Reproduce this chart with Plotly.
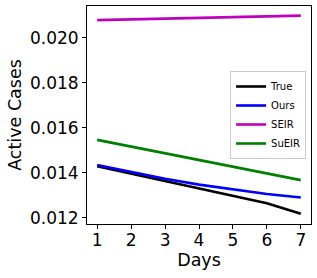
import plotly.graph_objects as go

days = [1, 2, 3, 4, 5, 6, 7]
true_vals = [0.01430, 0.01397, 0.01365, 0.01330, 0.01296, 0.01265, 0.01219]
ours_vals = [0.01435, 0.01403, 0.01374, 0.01348, 0.01326, 0.01306, 0.01291]
seir_vals = [0.02079, 0.02082, 0.02086, 0.02089, 0.02092, 0.02096, 0.02099]
sueir_vals = [0.01547, 0.01517, 0.01488, 0.01459, 0.01429, 0.01398, 0.01368]

series = [
    ("True", true_vals, "black"),
    ("Ours", ours_vals, "#0000ff"),
    ("SEIR", seir_vals, "#bf00bf"),
    ("SuEIR", sueir_vals, "#008000"),
]

fig = go.Figure()
for name, vals, color in series:
    fig.add_trace(go.Scatter(x=days, y=vals, mode="lines", name=name,
                             line=dict(color=color, width=2.6)))

axis_common = dict(showline=True, linecolor="black", linewidth=1, mirror=True,
                   ticks="outside", ticklen=4, tickcolor="black", showgrid=False,
                   zeroline=False, automargin=False, tickfont=dict(size=17, color="black"))

fig.update_layout(
    width=317, height=278,
    margin=dict(l=87, r=6, t=6, b=54, autoexpand=False),
    plot_bgcolor="white", paper_bgcolor="white",
    font=dict(family="DejaVu Sans", color="black"),
    xaxis=dict(range=[0.7, 7.3], tickvals=days, ticklabelstandoff=-3,
               title=dict(text="Days", font=dict(size=17.5), standoff=2),
               **axis_common),
    yaxis=dict(range=[0.01173, 0.02142], tickvals=[0.012, 0.014, 0.016, 0.018, 0.020],
               tickformat=".3f", title=dict(text="Active Cases", font=dict(size=17.5), standoff=3),
               **axis_common),
    legend=dict(x=0.978, y=0.5, xanchor="right", yanchor="middle",
                bgcolor="white", bordercolor="#cccccc", borderwidth=1,
                font=dict(size=10), tracegroupgap=0, itemwidth=30),
    showlegend=True,
)

fig.write_html("out.html", config={"displayModeBar": False, "responsive": False},
               post_script="document.body.style.margin='0';document.body.style.overflow='hidden';")
